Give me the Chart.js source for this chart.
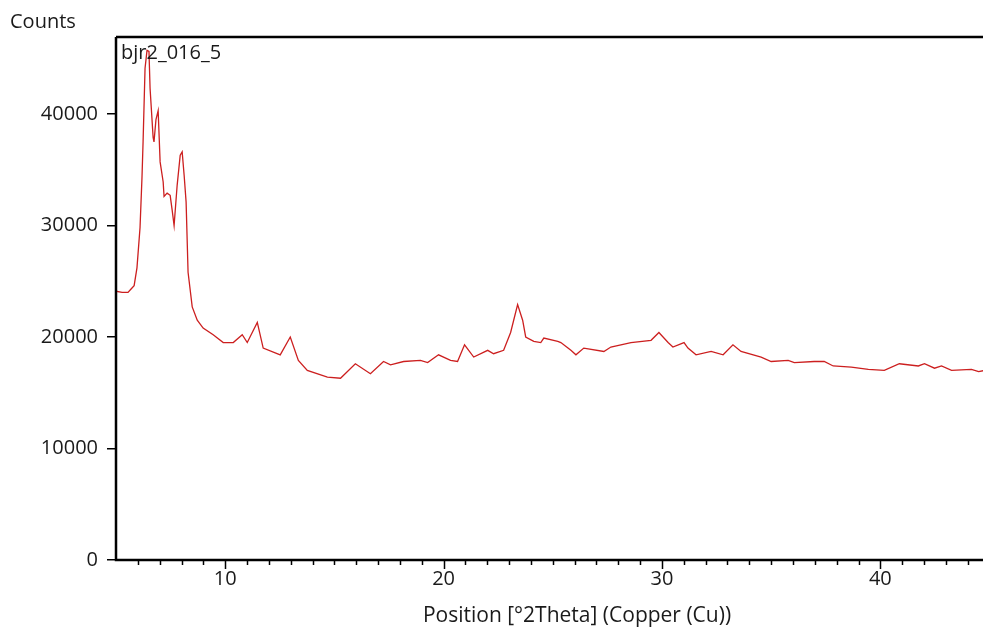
<!DOCTYPE html>
<html>
<head>
<meta charset="utf-8">
<script src="https://cdn.jsdelivr.net/npm/chart.js@4.4.1/dist/chart.umd.min.js"></script>
<style>
  html, body { margin: 0; padding: 0; background: #fff; }
  #wrap { width: 983px; height: 634px; position: relative; }
</style>
</head>
<body>
<div id="wrap"><canvas id="graph01"></canvas></div>
<script>
// 2Theta positions and counts
const positions = [5.00, 5.28, 5.55, 5.69, 5.83, 5.96, 6.10, 6.19, 6.24, 6.33, 6.42, 6.51, 6.56, 6.70, 6.74, 6.83, 6.93, 7.02, 7.16, 7.20, 7.34, 7.48, 7.57, 7.66, 7.80, 7.94, 8.03, 8.12, 8.21, 8.30, 8.49, 8.72, 8.99, 9.45, 9.91, 10.37, 10.78, 11.01, 11.47, 11.74, 12.52, 12.98, 13.35, 13.76, 14.68, 15.28, 15.96, 16.65, 17.25, 17.57, 18.17, 18.94, 19.27, 19.77, 20.32, 20.64, 20.96, 21.38, 22.02, 22.29, 22.75, 23.07, 23.21, 23.39, 23.62, 23.76, 24.13, 24.45, 24.59, 25.23, 25.37, 25.83, 26.06, 26.42, 27.34, 27.66, 28.58, 29.50, 29.86, 30.28, 30.50, 31.01, 31.19, 31.56, 32.25, 32.80, 33.25, 33.62, 34.54, 35.00, 35.78, 36.06, 36.97, 37.43, 37.84, 38.67, 39.45, 40.18, 40.87, 41.74, 42.02, 42.48, 42.80, 43.26, 44.17, 44.50, 44.77]
const counts = [24100, 24000, 24000, 24300, 24600, 26200, 29800, 34300, 37500, 44100, 45700, 45600, 42300, 37900, 37500, 39500, 40300, 35700, 33900, 32600, 32900, 32700, 31400, 30000, 33600, 36300, 36600, 34500, 32100, 25800, 22700, 21500, 20800, 20200, 19500, 19500, 20200, 19500, 21300, 19000, 18400, 20000, 17900, 17000, 16400, 16300, 17600, 16700, 17800, 17500, 17800, 17900, 17700, 18400, 17900, 17800, 19300, 18200, 18800, 18500, 18800, 20400, 21500, 22900, 21500, 20000, 19600, 19500, 19900, 19600, 19500, 18800, 18400, 19000, 18700, 19100, 19500, 19700, 20400, 19500, 19100, 19500, 19000, 18400, 18700, 18400, 19300, 18700, 18200, 17800, 17900, 17700, 17800, 17800, 17400, 17300, 17100, 17000, 17600, 17400, 17600, 17200, 17400, 17000, 17100, 16900, 17000]
const xTicks = [10, 20, 30, 40]
const yTicks = [0, 10000, 20000, 30000, 40000]
const scanName = 'bjr2_016_5'

const xMin = 5
const xMax = 44.7
const yMax = 46900
const fontFamily = '"Open Sans", "DejaVu Sans", sans-serif'

const points = positions.map((p, i) => ({ x: p, y: counts[i] }))

const frame = {
  id: 'frame',
  afterDraw(chart) {
    const ctx = chart.ctx
    const a = chart.chartArea
    const xs = chart.scales.x
    ctx.save()
    ctx.strokeStyle = '#000'
    ctx.lineWidth = 2.5
    ctx.beginPath()
    ctx.moveTo(a.left, a.top)
    ctx.lineTo(a.right, a.top)
    ctx.moveTo(a.left, a.top)
    ctx.lineTo(a.left, a.bottom)
    ctx.lineTo(a.right, a.bottom)
    ctx.stroke()

    // tick marks on the position axis, minor every degree
    ctx.lineWidth = 1.5
    for (let v = 6; v <= 44; v++) {
      const px = Math.round(xs.getPixelForValue(v)) + 0.5
      const len = v % 10 === 0 ? 9 : 5
      ctx.beginPath()
      ctx.moveTo(px, a.bottom)
      ctx.lineTo(px, a.bottom + len)
      ctx.stroke()
    }

    ctx.fillStyle = '#1a1a1a'
    ctx.font = '20px ' + fontFamily
    ctx.textBaseline = 'middle'
    ctx.textAlign = 'left'
    ctx.fillText('Counts', 10, 22)
    ctx.fillText(scanName, a.left + 5, a.top + 16)
    ctx.textAlign = 'center'
    xTicks.forEach(t => {
      ctx.fillText(String(t), xs.getPixelForValue(t), a.bottom + 19)
    })
    ctx.font = '21px ' + fontFamily
    ctx.fillText('Position [°2Theta] (Copper (Cu))', a.left + 461, a.bottom + 56)
    ctx.restore()
  }
}

new Chart(document.getElementById('graph01'), {
  type: 'line',
  data: {
    datasets: [{
      data: points,
      borderColor: '#cc1f1f',
      borderWidth: 1.3,
      pointRadius: 0,
      tension: 0,
      fill: false
    }]
  },
  options: {
    responsive: true,
    maintainAspectRatio: false,
    animation: false,
    layout: { padding: { top: 37, right: 0, left: 0, bottom: 0 } },
    plugins: {
      legend: { display: false },
      tooltip: { enabled: false }
    },
    scales: {
      x: {
        type: 'linear',
        min: xMin,
        max: xMax,
        grid: { display: false },
        border: { display: false },
        ticks: { display: false },
        afterFit: s => { s.height = 74 }
      },
      y: {
        min: 0,
        max: yMax,
        afterBuildTicks: s => { s.ticks = yTicks.map(v => ({ value: v })) },
        grid: { drawOnChartArea: false, tickLength: 9, color: '#000', lineWidth: 1.5 },
        border: { display: false },
        ticks: {
          color: '#1a1a1a',
          padding: 9,
          font: { family: fontFamily, size: 20 },
          callback: v => String(v)
        },
        afterFit: s => { s.width = 116 }
      }
    }
  },
  plugins: [frame]
});
</script>
</body>
</html>
